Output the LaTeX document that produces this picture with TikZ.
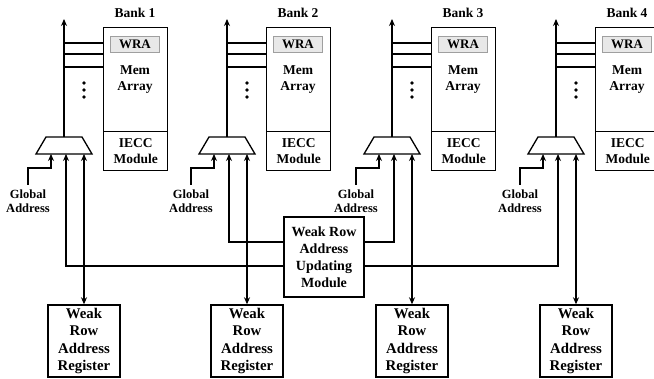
\documentclass[tikz,border=0pt]{standalone}
\usepackage{fontspec}
\setmainfont{Liberation Serif}
\usetikzlibrary{arrows.meta,calc}
\begin{document}
\begin{tikzpicture}[x=1pt,y=-1pt,line width=1.3pt,
  box/.style={draw,line width=1.4pt,inner sep=0pt,align=center,font=\bfseries\fontsize{13.5}{16}\selectfont},
  lbl/.style={inner sep=0pt,align=center,font=\bfseries\fontsize{13.5}{16}\selectfont},
  glbl/.style={inner sep=0pt,align=center,font=\bfseries\fontsize{12.5}{14}\selectfont},
  wra/.style={draw=gray!75,fill=gray!18,line width=0.8pt,inner sep=0pt,minimum width=49pt,minimum height=16pt,font=\bfseries\fontsize{13}{15}\selectfont},
  regbox/.style={draw,line width=1.4pt,inner sep=0pt,align=center,minimum width=72pt,minimum height=72pt,font=\bfseries\fontsize{14.8}{17.3}\selectfont},
  arr/.style={-{Stealth[length=7pt,width=6pt]}},
  darr/.style={{Stealth[length=7pt,width=6pt]}-{Stealth[length=7pt,width=6pt]}}]
\useasboundingbox (0,0) rectangle (654,379);

\foreach \i/\c in {1/64,2/227,3/392,4/556} {
  % bank boxes
  \node[box,minimum width=64pt,minimum height=104pt,anchor=north west] (mem\i) at (\c+39,27) {};
  \node[box,minimum width=64pt,minimum height=39pt,anchor=north west] (iecc\i) at (\c+39,131) {IECC\\Module};
  \node[wra] (wra\i) at (\c+71,44) {WRA};
  \node[lbl] (memt\i) at (\c+71,80) {Mem\\Array};
  \node[lbl] (bank\i) at (\c+71,13) {Bank \i};
  % word lines
  \coordinate (mt\i) at (\c,137);
  \coordinate (up\i) at (\c,19);
  \draw[arr] (mt\i) -- (up\i);
  \foreach \yy in {43,54,67} \draw (\c,\yy) -- (\c+39,\yy);
  \foreach \yy in {83,90,97} \fill (\c+20,\yy) circle (1.9pt);
  % mux
  \draw (\c-28,154) -- (\c-18,137) -- (\c+18,137) -- (\c+28,154) -- cycle;
  \coordinate (gin\i) at (\c-13,154);
  \coordinate (in\i) at (\c+2,154);
  \coordinate (rin\i) at (\c+20,154);
  % global address
  \node[glbl,anchor=north] (glob\i) at (\c-36,189) {Global\\Address};
  \draw[arr] (glob\i.north) ++(0,-4) -- (\c-36,168) -| (gin\i);
  % register
  \node[regbox] (reg\i) at (\c+20,341) {Weak\\Row\\Address\\Register};
  \draw[darr] (rin\i) -- (reg\i.north);
}

\node[box,minimum width=80pt,minimum height=80pt,font=\bfseries\fontsize{14}{17}\selectfont] (wu) at (324,257) {Weak Row\\Address\\Updating\\Module};
\draw[arr] ([yshift=-9pt]wu.west) -| (in1);
\draw[arr] ([yshift=15pt]wu.west) -| (in2);
\draw[arr] ([yshift=15pt]wu.east) -| (in3);
\draw[arr] ([yshift=-9pt]wu.east) -| (in4);
\end{tikzpicture}
\end{document}
